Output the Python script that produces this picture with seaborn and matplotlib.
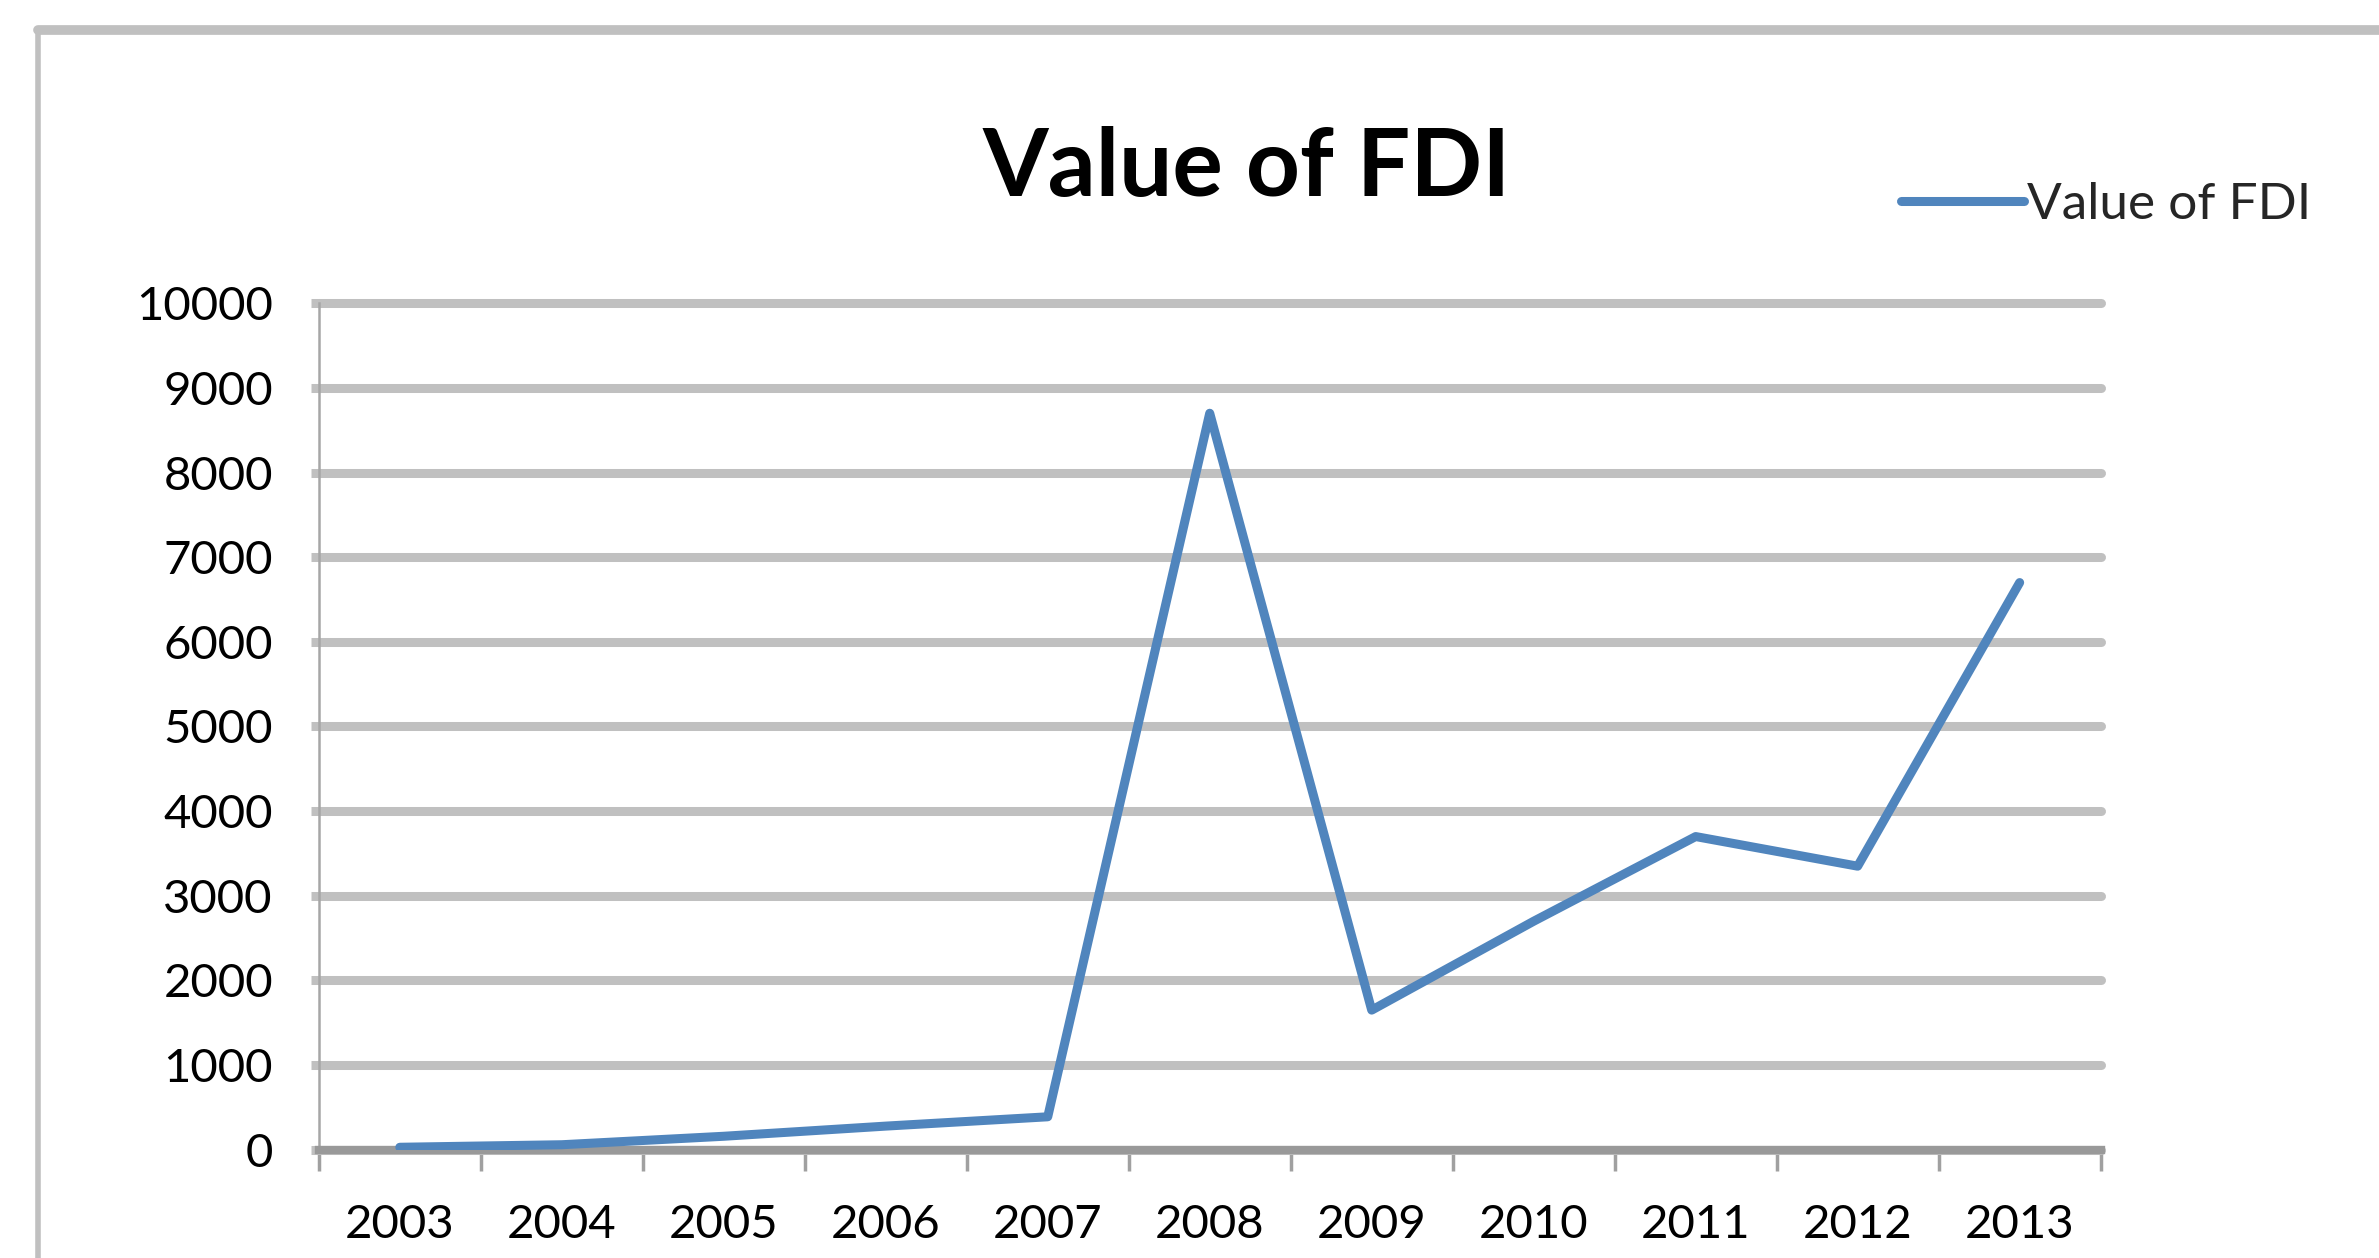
import numpy as np
import pandas as pd
import matplotlib.pyplot as plt
import seaborn as sns
from matplotlib.lines import Line2D

# Data
years = ['2003', '2004', '2005', '2006', '2007', '2008', '2009', '2010', '2011', '2012', '2013']
fdi_values = [30, 60, 160, 280, 390, 8700, 1650, 2700, 3700, 3350, 6700]
y_ticks = [0, 1000, 2000, 3000, 4000, 5000, 6000, 7000, 8000, 9000, 10000]

series_name = 'Value of FDI'
line_color = '#5085BD'
grid_color = '#C0C0C0'

sns.set_theme(style='white')
plt.rcParams['font.family'] = ['Lato', 'DejaVu Sans']

df = pd.DataFrame({'pos': np.arange(len(years)), 'value': fdi_values})

fig = plt.figure(figsize=(23.79, 12.58), dpi=100)
ax = fig.add_axes([0.134, 0.086, 0.883 - 0.134, 0.759 - 0.086])

sns.lineplot(data=df, x='pos', y='value', ax=ax, color=line_color,
             linewidth=6.5, label=series_name, legend=False, zorder=3)

# y axis
ax.set_ylim(0, 10000)
ax.set_yticks(y_ticks)
ax.set_yticklabels([str(v) for v in y_ticks])
ax.yaxis.grid(True, color=grid_color, linewidth=6.5)
ax.set_axisbelow(True)
for t in ax.yaxis.get_major_ticks():
    t.gridline.set_clip_on(False)
ax.tick_params(axis='y', which='major', left=True, length=6, width=6.5,
               color=grid_color, pad=27, labelsize=34, labelcolor='black')

# x axis: ticks at category boundaries, labels centred
ax.set_xlim(-0.5, len(years) - 0.5)
ax.set_xticks(np.arange(-0.5, len(years), 1.0))
ax.set_xticklabels([])
ax.set_xticks(np.arange(len(years)), minor=True)
ax.set_xticklabels(years, minor=True)
ax.tick_params(axis='x', which='major', bottom=True, length=15, width=2.5, color='#A0A0A0')
ax.tick_params(axis='x', which='minor', bottom=True, length=0, pad=39, labelsize=34, labelcolor='black')
ax.set_xlabel('')
ax.set_ylabel('')

for s in ['top', 'right']:
    ax.spines[s].set_visible(False)
ax.spines['left'].set_color('#A6A6A6')
ax.spines['left'].set_linewidth(1.8)
ax.spines['bottom'].set_color('#999999')
ax.spines['bottom'].set_linewidth(6)

# title and legend
fig.text(0.524, 0.866, series_name, ha='center', va='center',
         fontsize=68, fontweight='bold', color='black')
fig.legend(handles=[Line2D([], [], color=line_color, linewidth=6.5)], labels=[series_name],
           loc='center left', bbox_to_anchor=(0.799, 0.837), frameon=False,
           fontsize=37, handlelength=2.4, handletextpad=0.05, borderpad=0, borderaxespad=0)

# chart frame (top and left edges visible in the reference)
fig.add_artist(Line2D([0.016, 1.0], [0.976, 0.976], transform=fig.transFigure,
                      color=grid_color, linewidth=7))
fig.add_artist(Line2D([0.016, 0.016], [0.0, 0.976], transform=fig.transFigure,
                      color=grid_color, linewidth=4))

fig.savefig('out.png', dpi=100)
